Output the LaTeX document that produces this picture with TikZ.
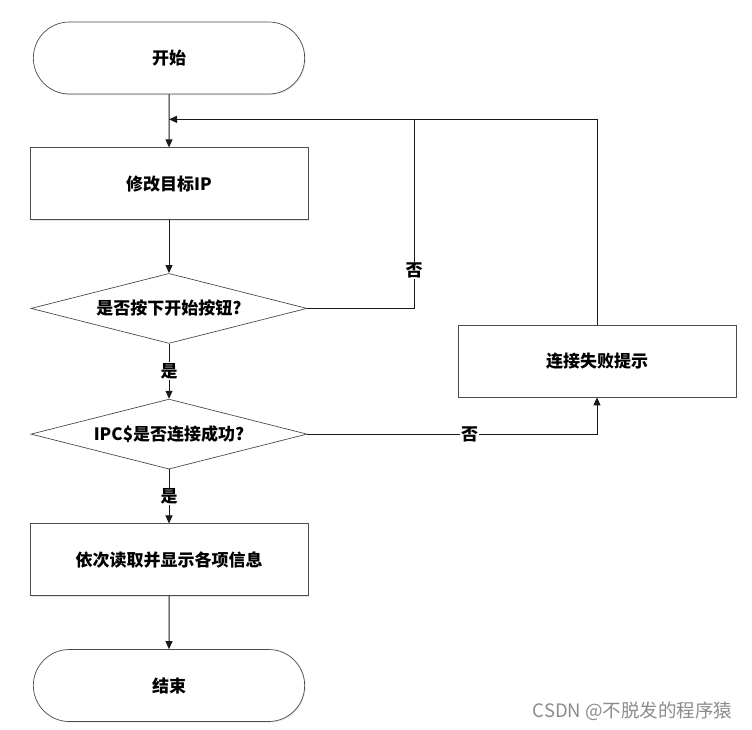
\documentclass[tikz,border=0pt]{standalone}
\usepackage{fontspec}
\newfontfamily\cjk{Noto Sans CJK SC}
\usetikzlibrary{arrows.meta,positioning,shapes.geometric,shapes.misc,shadows}

\begin{document}
\begin{tikzpicture}[x=1pt,y=1pt,
node distance=53pt,
font=\cjk\bfseries\fontsize{17}{20}\selectfont,
flowshadow/.style={drop shadow={shadow xshift=1pt, shadow yshift=-1pt, opacity=0.2}},
flowterm/.style={rounded rectangle, draw=black!70, fill=white, flowshadow,
minimum width=278pt, minimum height=72pt, line width=0.7pt},
flowact/.style={rectangle, draw=black!70, fill=white, flowshadow,
minimum width=278pt, minimum height=72pt, line width=0.7pt},
flowdec/.style={diamond, aspect=3.94, draw=black!70, fill=white, minimum width=276pt,
minimum height=70pt, inner sep=0pt, line width=0.7pt},
flowarrow/.style={-{Triangle[length=8pt,width=7pt]}, line width=1pt, draw=black!90},
flowline/.style={line width=1pt, draw=black!90},
flowlabel/.style={fill=white, inner sep=1pt}
]
\useasboundingbox[fill=white] (0,0) rectangle (752,-729);

\node[flowterm] (start) at (169,-58) {开始};
\node[flowact, below=of start] (ip) {修改目标IP};
\node[flowdec, below=of ip] (dec1) {是否按下开始按钮?};
\node[flowdec, below=55pt of dec1] (dec2) {IPC\$是否连接成功?};
\node[flowact, below=54pt of dec2] (read) {依次读取并显示各项信息};
\node[flowterm, below=of read] (end) {结束};
\node[flowact] (fail) at (597,-361) {连接失败提示};

\coordinate[below=25pt of start] (join);
\coordinate (turn) at (414,-119);

\draw[flowarrow] (start) -- (ip);
\draw[flowarrow] (ip) -- (dec1);
\draw[flowarrow] (dec1) -- node[flowlabel] {是} (dec2);
\draw[flowarrow] (dec2) -- node[flowlabel] {是} (read);
\draw[flowarrow] (read) -- (end);
\draw[flowarrow] (fail) |- (join);
\draw[flowline] (dec1.east) -| node[flowlabel, pos=0.6] {否} (turn);
\draw[flowarrow] (dec2.east) -| node[flowlabel, pos=0.28] {否} (fail);

\node[font=\cjk\fontsize{18.5}{21}\selectfont, text=black!45, anchor=east] (mark)
at (736,-711) {CSDN @不脱发的程序猿};
\end{tikzpicture}
\end{document}
